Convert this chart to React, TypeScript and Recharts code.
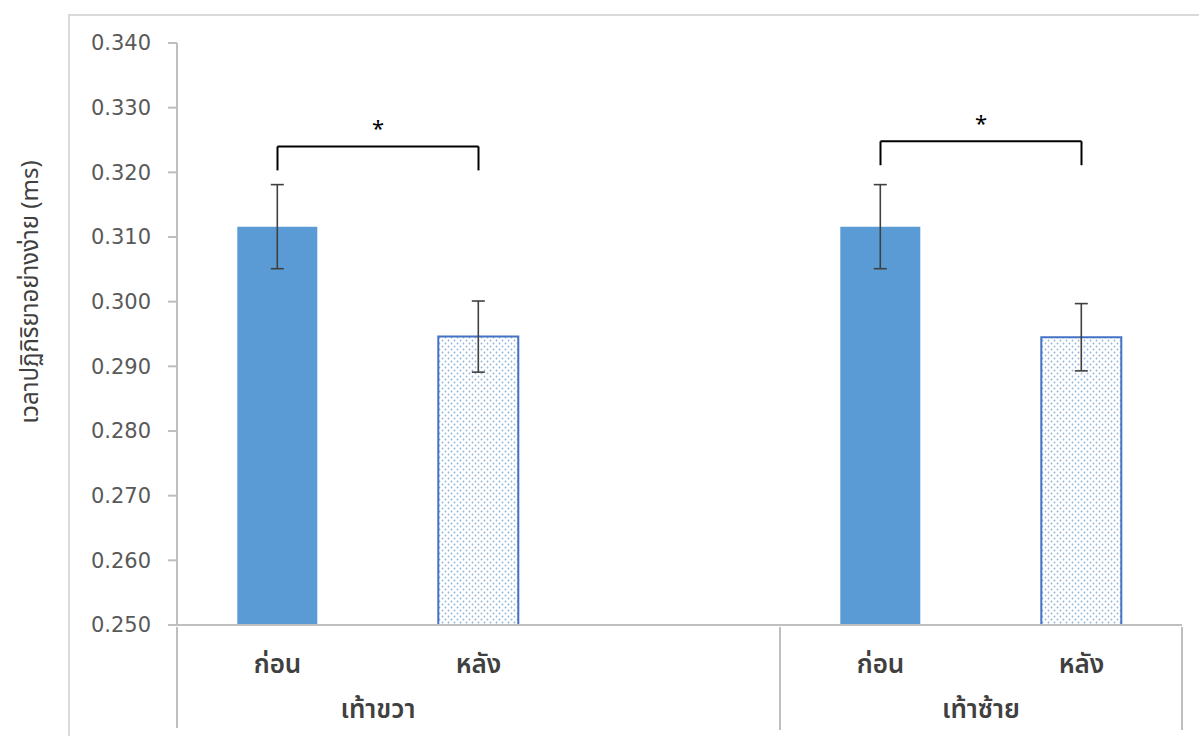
import React from 'react'
import { BarChart, Bar, Cell, XAxis, YAxis, ErrorBar, ReferenceLine } from 'recharts'

const ids = ['r-before', 'r-after', 'gap', 'l-before', 'l-after']
const labels = ['ก่อน', 'หลัง', '', 'ก่อน', 'หลัง']
const groups = ['เท้าขวา', 'เท้าขวา', 'เท้าขวา', 'เท้าซ้าย', 'เท้าซ้าย']
const means = [0.3116, 0.2946, null, 0.3116, 0.2945]
const errors = [0.0065, 0.0055, null, 0.0065, 0.0052]
const yTicks = [0.25, 0.26, 0.27, 0.28, 0.29, 0.3, 0.31, 0.32, 0.33, 0.34]

// significance brackets: [from, to, top, drop]
const brackets = [
  { from: 'r-before', to: 'r-after', top: 0.324, drop: 0.3203 },
  { from: 'l-before', to: 'l-after', top: 0.3248, drop: 0.3211 },
]

const data = ids.map((id, i) => ({
  id,
  label: labels[i],
  group: groups[i],
  value: means[i],
  err: errors[i],
}))

const FONT = "Tahoma, 'Noto Sans Thai', 'Noto Sans', 'DejaVu Sans', sans-serif"
const GRID = '#bfbfbf'

function CategoryTick(props: any) {
  const { x, y, payload } = props
  const i = payload.index
  const half = payload.offset
  const row = data[i]
  const isFirst = i === 0
  const isLast = i === data.length - 1
  const endsGroup = !isLast && data[i + 1].group !== row.group
  return (
    <g>
      <text x={x} y={y + 46} textAnchor="middle" fontSize={26} fontWeight={600} fill="#404040" fontFamily={FONT}>
        {row.label}
      </text>
      {row.label === 'หลัง' && (
        <text x={x - half} y={y + 91} textAnchor="middle" fontSize={26} fontWeight={600} fill="#404040" fontFamily={FONT}>
          {row.group}
        </text>
      )}
      {isFirst && <line x1={x - half} y1={y} x2={x - half} y2={y + 101} stroke={GRID} strokeWidth={2} />}
      {(endsGroup || isLast) && <line x1={x + half} y1={y} x2={x + half} y2={y + 103} stroke={GRID} strokeWidth={2} />}
    </g>
  )
}

export default function App() {
  return (
    <div style={{ position: 'absolute', left: 0, top: 0, width: 1199, height: 736 }}>
      <div
        style={{
          position: 'absolute',
          left: 68,
          top: 14,
          width: 1131,
          height: 722,
          borderTop: '2px solid #d9d9d9',
          borderLeft: '2px solid #d9d9d9',
          boxSizing: 'border-box',
        }}
      />
      <div style={{ position: 'absolute', left: 0, top: 0 }}>
        <BarChart
          width={1199}
          height={736}
          data={data}
          margin={{ top: 43, right: 17, left: 0, bottom: 0 }}
          barCategoryGap="30%"
        >
          <defs>
            <pattern id="dots" width="6" height="6" patternUnits="userSpaceOnUse">
              <rect width="6" height="6" fill="#ffffff" />
              <circle cx="1.5" cy="1.5" r="0.9" fill="#8fb4dc" />
              <circle cx="4.5" cy="4.5" r="0.9" fill="#8fb4dc" />
            </pattern>
          </defs>
          <XAxis
            dataKey="id"
            height={111}
            tickSize={0}
            tickLine={false}
            axisLine={{ stroke: GRID, strokeWidth: 2 }}
            interval={0}
            tick={<CategoryTick />}
          />
          <YAxis
            width={177}
            domain={[0.25, 0.34]}
            ticks={yTicks}
            allowDataOverflow
            tickFormatter={(v: number) => v.toFixed(3)}
            tickSize={9}
            tickMargin={17}
            axisLine={{ stroke: GRID, strokeWidth: 2 }}
            tickLine={{ stroke: GRID, strokeWidth: 2 }}
            tick={{ fill: '#595959', fontSize: 21, fontFamily: "'DejaVu Sans', sans-serif" }}
            label={{
              content: () => (
                <text
                  x={38}
                  y={292}
                  transform="rotate(-90 38 292)"
                  textAnchor="middle"
                  fontSize={24}
                  fill="#404040"
                  fontFamily={FONT}
                >
                  เวลาปฏิกิริยาอย่างง่าย (ms)
                </text>
              ),
            }}
          />
          <Bar dataKey="value" isAnimationActive={false}>
            {data.map((d, i) =>
              d.label === 'หลัง' ? (
                <Cell key={i} fill="url(#dots)" stroke="#4472c4" strokeWidth={2} />
              ) : (
                <Cell key={i} fill="#5b9bd5" />
              )
            )}
            <ErrorBar dataKey="err" width={6.5} stroke="#404040" strokeWidth={1.6} isAnimationActive={false} />
          </Bar>
          {brackets.map((b, i) => (
            <ReferenceLine
              key={`h${i}`}
              segment={[{ x: b.from, y: b.top }, { x: b.to, y: b.top }]}
              stroke="#000"
              strokeWidth={2}
              label={{ value: '*', position: 'top', offset: 10, fontSize: 22, fill: '#000', fontFamily: FONT }}
            />
          ))}
          {brackets.map((b, i) => (
            <ReferenceLine key={`l${i}`} segment={[{ x: b.from, y: b.top }, { x: b.from, y: b.drop }]} stroke="#000" strokeWidth={2} />
          ))}
          {brackets.map((b, i) => (
            <ReferenceLine key={`r${i}`} segment={[{ x: b.to, y: b.top }, { x: b.to, y: b.drop }]} stroke="#000" strokeWidth={2} />
          ))}
        </BarChart>
      </div>
    </div>
  )
}
